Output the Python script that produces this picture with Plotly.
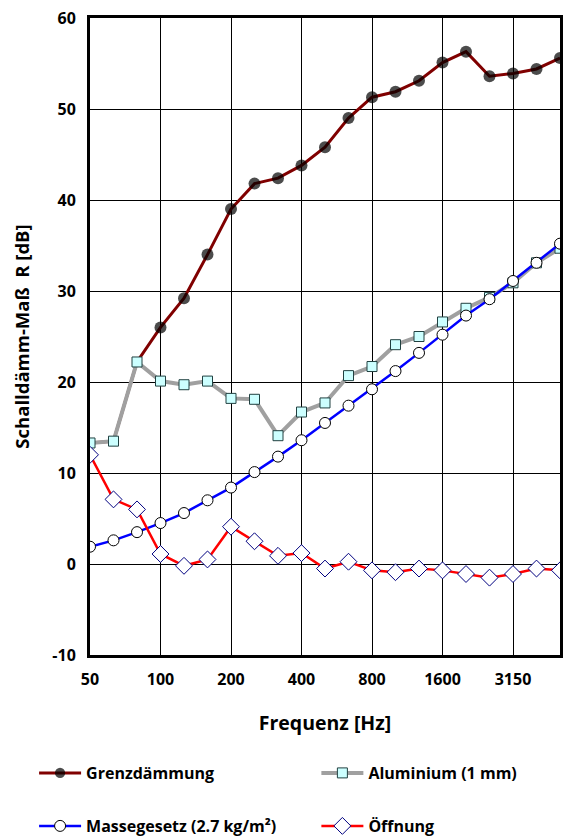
import plotly.graph_objects as go

freqs = ["50", "63", "80", "100", "125", "160", "200", "250", "315", "400", "500",
         "630", "800", "1000", "1250", "1600", "2000", "2500", "3150", "4000", "5000"]
tick_labels = ["50", "100", "200", "400", "800", "1600", "3150"]
y_ticks = [-10, 0, 10, 20, 30, 40, 50, 60]
y_tick_text = ["-10", "0", "10", "20", "30", "40", "50", "60"]

grenz = [13.3, 13.5, 22.2, 26.0, 29.2, 34.0, 39.0, 41.8, 42.4, 43.8, 45.8,
         49.0, 51.3, 51.9, 53.1, 55.1, 56.3, 53.6, 53.9, 54.4, 55.6]
alu = [13.3, 13.5, 22.2, 20.1, 19.7, 20.1, 18.2, 18.1, 14.1, 16.7, 17.7,
       20.7, 21.7, 24.1, 25.0, 26.6, 28.1, 29.3, 30.9, 33.1, 34.7]
masse = [1.9, 2.6, 3.5, 4.5, 5.6, 7.0, 8.4, 10.1, 11.8, 13.6, 15.5,
         17.4, 19.2, 21.2, 23.2, 25.2, 27.3, 29.1, 31.1, 33.1, 35.2]
oeff = [12.0, 7.1, 6.0, 1.1, -0.2, 0.5, 4.1, 2.5, 0.9, 1.2, -0.5,
        0.25, -0.7, -0.9, -0.5, -0.7, -1.1, -1.5, -1.1, -0.5, -0.7]

FONT = "Open Sans"

fig = go.Figure()
grenz_sizes = [0, 0, 0] + [12] * (len(freqs) - 3)
fig.add_trace(go.Scatter(
    x=freqs, y=grenz, mode="lines+markers", name="Grenzdämmung",
    line=dict(color="#800000", width=3),
    marker=dict(symbol="circle", size=grenz_sizes, color="black",
                line=dict(color="black", width=0)),
    legend="legend"))
fig.add_trace(go.Scatter(
    x=freqs, y=alu, mode="lines+markers", name="Aluminium (1 mm)",
    line=dict(color="#A0A0A0", width=4),
    marker=dict(symbol="square", size=10, color="#CCFFFF",
                line=dict(color="#204040", width=1)),
    legend="legend2"))
fig.add_trace(go.Scatter(
    x=freqs, y=masse, mode="lines+markers", name="Massegesetz (2.7 kg/m²)",
    line=dict(color="#0000FF", width=2.5),
    marker=dict(symbol="circle", size=11, color="white",
                line=dict(color="black", width=1)),
    legend="legend3"))
fig.add_trace(go.Scatter(
    x=freqs, y=oeff, mode="lines+markers", name="Öffnung",
    line=dict(color="#FF0000", width=2.5),
    marker=dict(symbol="diamond", size=13, color="white",
                line=dict(color="#000080", width=1)),
    legend="legend4"))

def leg(x, y):
    return dict(x=x, y=y, xref="container", yref="container",
                xanchor="left", yanchor="middle", orientation="h",
                font=dict(family=FONT, size=16, color="black", weight="bold"),
                itemwidth=42, bgcolor="rgba(0,0,0,0)", borderwidth=0)

fig.update_layout(
    width=568, height=837,
    margin=dict(l=90, r=8, t=18, b=182, autoexpand=False),
    plot_bgcolor="white", paper_bgcolor="white",
    font=dict(family=FONT, size=16, color="black", weight="bold"),
    showlegend=True,
    legend=leg(0.060, 1 - 773 / 837),
    legend2=leg(0.557, 1 - 773 / 837),
    legend3=leg(0.060, 1 - 826 / 837),
    legend4=leg(0.557, 1 - 826 / 837),
    xaxis=dict(
        type="category", range=[0, 20], tickmode="array", tickvals=tick_labels,
        ticktext=tick_labels, showgrid=True, gridcolor="black", gridwidth=1,
        showline=True, linecolor="black", linewidth=3, mirror=True,
        ticks="outside", ticklen=8, tickcolor="rgba(0,0,0,0)",
        tickfont=dict(family=FONT, size=16, weight="bold"),
        title=dict(text="Frequenz [Hz]", font=dict(family=FONT, size=19.5, weight="bold"),
                   standoff=28),
        automargin=False, zeroline=False),
    yaxis=dict(
        range=[-10, 60], tickmode="array", tickvals=y_ticks, ticktext=y_tick_text,
        showgrid=True, gridcolor="black", gridwidth=1,
        showline=True, linecolor="black", linewidth=3, mirror=True,
        ticks="outside", ticklen=8, tickcolor="rgba(0,0,0,0)",
        tickfont=dict(family=FONT, size=16, weight="bold"),
        title=dict(text="Schalldämm-Maß  R [dB]", font=dict(family=FONT, size=18.5, weight="bold"),
                   standoff=18),
        automargin=False, zeroline=False),
)

fig.write_html("out.html", config={"displayModeBar": False},
               post_script="document.body.style.margin='0px';")
